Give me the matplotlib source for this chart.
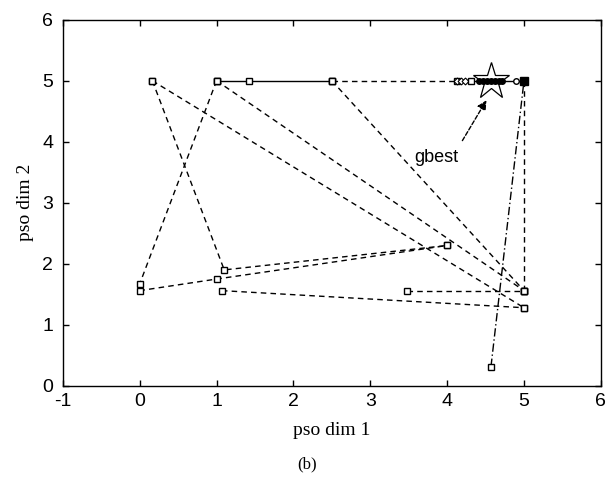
"""PSO particle trajectories in the 2-D search space, panel (b)."""

import matplotlib
matplotlib.use("Agg")
import matplotlib.pyplot as plt

# particle paths (dashed, open squares)
path_a_x = [0.165, 1.1, 4.0]
path_a_y = [5.0, 1.9, 2.3]
path_b_x = [0.165, 5.0]
path_b_y = [5.0, 1.28]
path_c_x = [1.0, 0.0, 0.0, 1.0, 4.0]
path_c_y = [5.0, 1.67, 1.56, 1.75, 2.3]
path_d_x = [1.0, 5.0]
path_d_y = [5.0, 1.56]
path_e_x = [2.5, 5.0]
path_e_y = [5.0, 1.56]
path_f_x = [2.5, 4.13]
path_f_y = [5.0, 5.0]
path_g_x = [1.07, 5.0]
path_g_y = [1.56, 1.28]
path_h_x = [3.48, 5.0]
path_h_y = [1.56, 1.56]
path_i_x = [5.0, 5.0]
path_i_y = [5.0, 1.56]

# solid top segment
solid_x = [1.0, 1.42, 2.5]
solid_y = [5.0, 5.0, 5.0]

# dash-dot particle coming up from the bottom
rise_x = [4.57, 5.0]
rise_y = [0.31, 5.0]

# converged cluster near gbest
diamond_x = [4.13, 4.18, 4.23]
cluster_sq_x = [4.31]
filled_x = [4.42, 4.47, 4.52, 4.57, 4.62, 4.67, 4.72]
tail_x = [4.72, 4.9, 5.0]
cluster_y = 5.0

gbest_x, gbest_y = 4.57, 5.0
gbest_text_xy = (3.86, 3.74)
gbest_arrow_from = (4.18, 3.98)
gbest_arrow_to = (4.53, 4.72)

x_ticks = [-1, 0, 1, 2, 3, 4, 5, 6]
y_ticks = [0, 1, 2, 3, 4, 5, 6]

fig = plt.figure(figsize=(6.10, 4.94), dpi=100)
ax = fig.add_axes([0.103, 0.219, 0.882, 0.741])

dash = (0, (4, 3))
sq = dict(marker="s", markersize=5, markerfacecolor="white", markeredgecolor="black", markeredgewidth=1.0)

for xs, ys in [(path_a_x, path_a_y), (path_b_x, path_b_y), (path_c_x, path_c_y),
               (path_d_x, path_d_y), (path_e_x, path_e_y), (path_f_x, path_f_y),
               (path_g_x, path_g_y), (path_h_x, path_h_y), (path_i_x, path_i_y)]:
    ax.plot(xs, ys, color="black", linestyle=dash, linewidth=1.0, **sq)

ax.plot(solid_x, solid_y, color="black", linestyle="-", linewidth=1.0, **sq)
ax.plot(rise_x, rise_y, color="black", linestyle=(0, (6, 2, 1, 2)), linewidth=1.0, **sq)

# cluster
ax.plot([diamond_x[0], tail_x[-1]], [cluster_y, cluster_y], color="black", linewidth=1.0)
ax.plot(diamond_x, [cluster_y] * len(diamond_x), linestyle="none", marker="D", markersize=3.5,
        markerfacecolor="white", markeredgecolor="black", markeredgewidth=0.8)
ax.plot(cluster_sq_x, [cluster_y], linestyle="none", **sq)
ax.plot(filled_x, [cluster_y] * len(filled_x), linestyle="none", marker="o", markersize=4,
        color="black")
ax.plot(tail_x[1:2], [cluster_y], linestyle="none", marker="o", markersize=4,
        markerfacecolor="white", markeredgecolor="black")
ax.plot(tail_x[2:], [cluster_y], linestyle="none", marker="s", markersize=6, color="black")

ax.plot([gbest_x], [gbest_y], linestyle="none", marker="*", markersize=28,
        markerfacecolor="none", markeredgecolor="black", markeredgewidth=0.9)

ax.annotate("", xy=gbest_arrow_to, xytext=gbest_arrow_from,
            arrowprops=dict(arrowstyle="-|>", color="black", lw=1.0, linestyle=(0, (3, 1.5)),
                            mutation_scale=14))
ax.text(*gbest_text_xy, "gbest", ha="center", va="center", fontsize=13, family="Liberation Sans")

ax.set_xlim(-1, 6)
ax.set_ylim(0, 6)
ax.set_xticks(x_ticks)
ax.set_yticks(y_ticks)
ax.set_xticklabels([str(t) for t in x_ticks], family="Liberation Sans", fontsize=14)
ax.set_yticklabels([str(t) for t in y_ticks], family="Liberation Sans", fontsize=14)
ax.tick_params(direction="in", length=4, width=1.0, top=True, right=True)
ax.tick_params(axis="x", pad=5)
ax.tick_params(axis="y", pad=7)
for s in ax.spines.values():
    s.set_linewidth(1.0)
ax.set_xlabel("pso dim 1", family="Liberation Serif", fontsize=14, labelpad=9)
ax.set_ylabel("pso dim 2", family="Liberation Serif", fontsize=14, labelpad=6)

fig.text(0.503, 0.06, "(b)", ha="center", va="center", family="Liberation Serif", fontsize=12)

fig.savefig("out.png", dpi=100)
